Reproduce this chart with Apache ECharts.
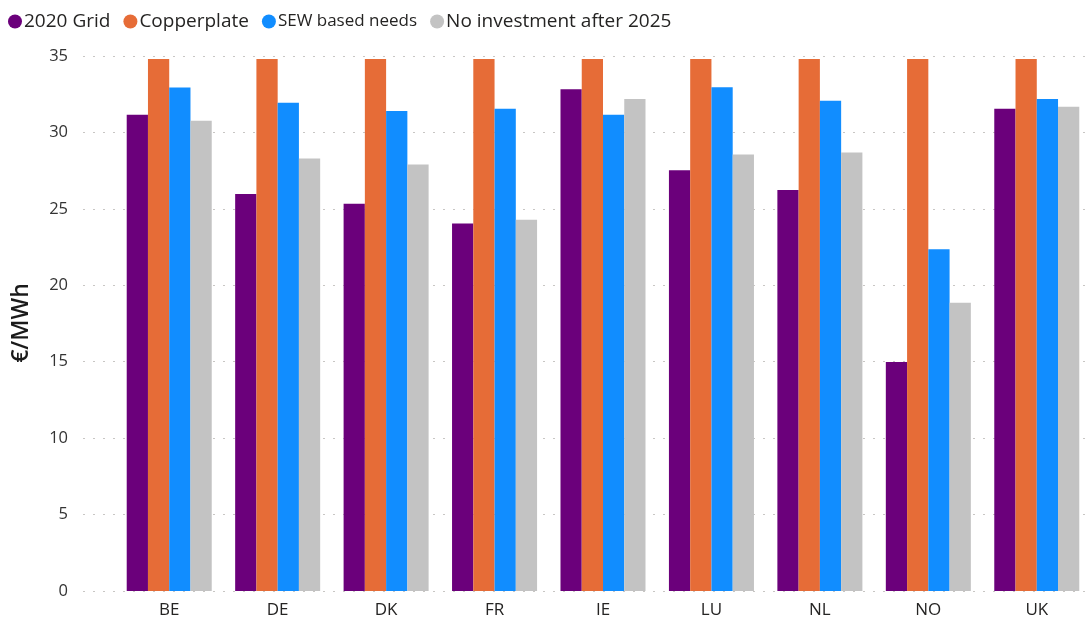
<!DOCTYPE html>
<html>
<head>
<meta charset="utf-8">
<script src="https://cdn.jsdelivr.net/npm/echarts@6/dist/echarts.min.js"></script>
<style>
  html, body { margin: 0; padding: 0; background: #ffffff; }
  #chart { width: 1091px; height: 628px; }
</style>
</head>
<body>
<div id="chart"></div>
<script>
// Average electricity price per country under each grid scenario (€/MWh)
const countries = ['BE', 'DE', 'DK', 'FR', 'IE', 'LU', 'NL', 'NO', 'UK'];
const grid2020 = [31.15, 25.98, 25.33, 24.05, 32.83, 27.53, 26.23, 14.98, 31.55];
const copperplate = [34.8, 34.8, 34.8, 34.8, 34.8, 34.8, 34.8, 34.8, 34.8];
const sewBasedNeeds = [32.94, 31.94, 31.41, 31.55, 31.15, 32.96, 32.07, 22.35, 32.18];
const noInvestmentAfter2025 = [30.76, 28.30, 27.91, 24.29, 32.18, 28.56, 28.69, 18.86, 31.68];
const yTicks = { min: 0, max: 35, interval: 5 };

const FONT = '"Segoe UI", "Open Sans", "Noto Sans", sans-serif';
const colors = ['#6B007B', '#E66C37', '#118DFF', '#C3C3C3'];

const chart = echarts.init(document.getElementById('chart'), null, { renderer: 'canvas' });

function barSeries(name, data, color) {
  return {
    name: name,
    type: 'bar',
    xAxisIndex: 1,
    yAxisIndex: 1,
    data: data,
    barGap: '0%',
    barCategoryGap: '21.6%',
    itemStyle: { color: color },
    emphasis: { disabled: true }
  };
}

chart.setOption({
  animation: false,
  color: colors,
  textStyle: { fontFamily: FONT },
  legend: {
    left: 3,
    top: 7,
    icon: 'circle',
    itemWidth: 14,
    itemHeight: 14,
    itemGap: 13,
    textStyle: { fontFamily: FONT, fontSize: 19, color: '#252423', padding: [0, 0, 0, -3] },
    data: [
      { name: '2020 Grid' },
      { name: 'Copperplate' },
      { name: 'SEW based needs', textStyle: { fontSize: 17 } },
      { name: 'No investment after 2025' }
    ]
  },
  grid: [
    // value gridlines and tick labels span the full plot width
    { left: 83, right: 0, top: 56, bottom: 37 },
    // bars sit in an inset band so the first group has room on the left
    { left: 115, right: 0, top: 56, bottom: 37 }
  ],
  xAxis: [
    { type: 'value', gridIndex: 0, min: 0, max: 1, show: false },
    {
      type: 'category',
      gridIndex: 1,
      data: countries,
      axisLine: { show: false },
      axisTick: { show: false },
      axisLabel: { color: '#252423', fontSize: 17, margin: 11, fontFamily: FONT }
    }
  ],
  yAxis: [
    {
      type: 'value',
      gridIndex: 0,
      min: yTicks.min,
      max: yTicks.max,
      interval: yTicks.interval,
      axisLine: { show: false },
      axisTick: { show: false },
      axisLabel: { color: '#333333', fontSize: 16.5, margin: 15, fontFamily: FONT },
      splitLine: { show: true, lineStyle: { color: '#c8c6c4', width: 1, type: [2, 8] } }
    },
    {
      type: 'value',
      gridIndex: 1,
      min: yTicks.min,
      max: yTicks.max,
      interval: yTicks.interval,
      show: false,
      splitLine: { show: false }
    }
  ],
  graphic: [
    {
      type: 'text',
      x: 21,
      y: 323,
      rotation: Math.PI / 2,
      style: {
        text: '€/MWh',
        fill: '#1a1a1a',
        font: '600 23px ' + FONT,
        align: 'center',
        verticalAlign: 'middle'
      }
    }
  ],
  series: [
    barSeries('2020 Grid', grid2020, colors[0]),
    barSeries('Copperplate', copperplate, colors[1]),
    barSeries('SEW based needs', sewBasedNeeds, colors[2]),
    barSeries('No investment after 2025', noInvestmentAfter2025, colors[3])
  ]
});
</script>
</body>
</html>
